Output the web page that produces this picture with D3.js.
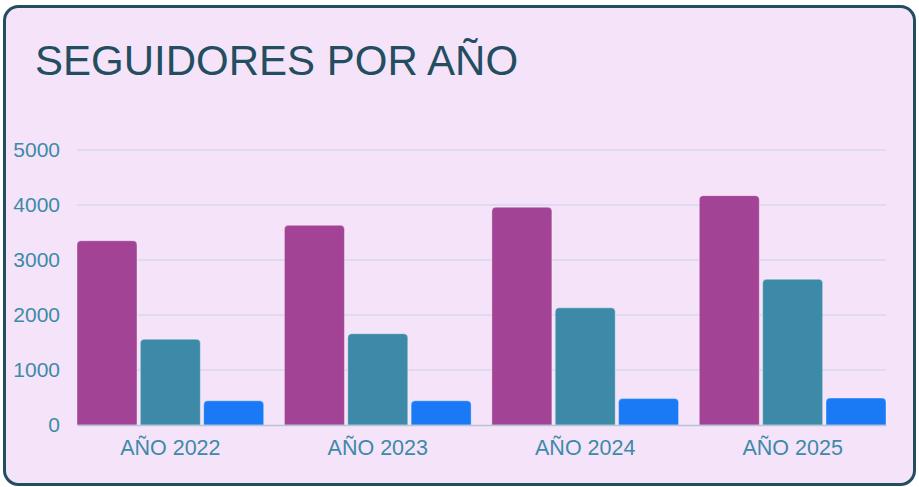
<!DOCTYPE html>
<html>
<head>
<meta charset="utf-8">
<script src="https://cdn.jsdelivr.net/npm/d3@7"></script>
<style>
  html, body { margin: 0; padding: 0; background: #ffffff; }
  svg { display: block; font-family: "Liberation Sans", Arial, sans-serif; }
</style>
</head>
<body>
<svg width="919" height="487"></svg>
<script>
const years = ["AÑO 2022", "AÑO 2023", "AÑO 2024", "AÑO 2025"];
const serieA = [3350, 3630, 3960, 4170];
const serieB = [1560, 1660, 2130, 2650];
const serieC = [440, 440, 480, 490];
const yTicks = [0, 1000, 2000, 3000, 4000, 5000];
const colors = ["#a34395", "#3d8aa8", "#1a7af5"];

const svg = d3.select("svg");
const width = +svg.attr("width");
const height = +svg.attr("height");

// card
svg.append("rect")
    .attr("x", 4.5).attr("y", 6.5)
    .attr("width", width - 9).attr("height", height - 9)
    .attr("rx", 14).attr("ry", 14)
    .attr("fill", "#f5e4f9")
    .attr("stroke", "#234e5f")
    .attr("stroke-width", 3);

svg.append("text")
    .attr("x", 35).attr("y", 75)
    .attr("font-size", 42)
    .attr("fill", "#234e5f")
    .text("SEGUIDORES POR AÑO");

const plotLeft = 77, plotRight = 886, plotTop = 150, plotBottom = 425;

const x = d3.scaleBand()
    .domain(years)
    .range([plotLeft, plotRight])
    .paddingInner(0.1)
    .paddingOuter(0);

const xs = d3.scaleBand()
    .domain([0, 1, 2])
    .range([0, x.bandwidth()])
    .paddingInner(0.053)
    .paddingOuter(0);

const y = d3.scaleLinear()
    .domain([0, 5000])
    .range([plotBottom, plotTop]);

// grid
svg.append("g")
    .selectAll("line")
    .data(yTicks.filter(d => d > 0))
    .join("line")
    .attr("x1", plotLeft).attr("x2", plotRight)
    .attr("y1", d => y(d)).attr("y2", d => y(d))
    .attr("stroke", "#c8cfe8")
    .attr("stroke-width", 1);

// y labels
const yAxis = d3.axisLeft(y).tickValues(yTicks).tickFormat(d3.format("d")).tickSize(0).tickPadding(0);
const gy = svg.append("g")
    .attr("transform", `translate(${plotLeft - 17},0)`)
    .call(yAxis);
gy.select(".domain").remove();
gy.selectAll("text")
    .attr("font-size", 21)
    .attr("font-family", "Liberation Sans, Arial, sans-serif")
    .attr("fill", "#3d8aa8");

// bars
const rows = years.map((yr, i) => ({ yr, vals: [serieA[i], serieB[i], serieC[i]] }));
const r = 4;
function topRounded(x0, y0, w, h) {
    const rr = Math.min(r, h / 2, w / 2);
    return `M${x0},${y0 + h}V${y0 + rr}Q${x0},${y0} ${x0 + rr},${y0}` +
        `H${x0 + w - rr}Q${x0 + w},${y0} ${x0 + w},${y0 + rr}V${y0 + h}Z`;
}

svg.append("g")
    .selectAll("g")
    .data(rows)
    .join("g")
    .attr("transform", d => `translate(${x(d.yr)},0)`)
    .selectAll("path")
    .data(d => d.vals.map((v, k) => ({ v, k })))
    .join("path")
    .attr("d", d => topRounded(xs(d.k), y(d.v), xs.bandwidth(), y(0) - y(d.v)))
    .attr("fill", d => colors[d.k])
    .attr("stroke", "rgba(255,255,255,0.35)")
    .attr("stroke-width", 1);

// x axis
const xAxis = d3.axisBottom(x).tickSize(0).tickPadding(0);
const gx = svg.append("g")
    .attr("transform", `translate(0,${plotBottom})`)
    .call(xAxis);
gx.select(".domain")
    .attr("stroke", "#b9c3d8")
    .attr("stroke-width", 1.5);
gx.selectAll("text")
    .attr("dy", null)
    .attr("y", 30)
    .attr("font-size", 21.5)
    .attr("font-family", "Liberation Sans, Arial, sans-serif")
    .attr("fill", "#3d8aa8");
</script>
</body>
</html>
